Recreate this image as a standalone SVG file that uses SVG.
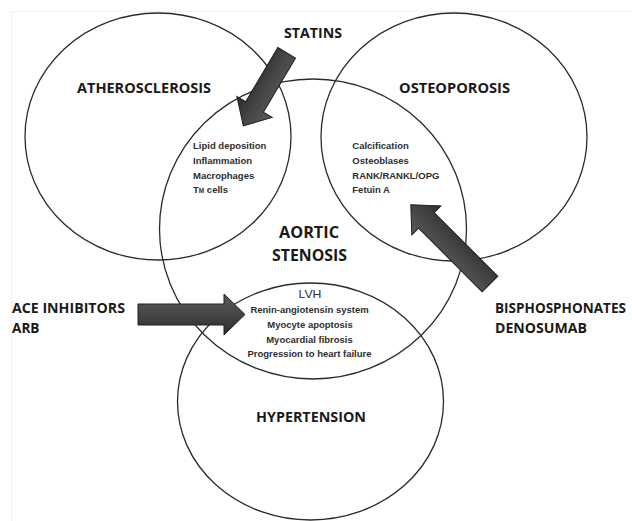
<svg xmlns="http://www.w3.org/2000/svg" width="632" height="521" viewBox="0 0 632 521">
<style>
.ring{fill:none;stroke:#2b2b2b;stroke-width:1.3}
.big{font-family:"Open Sans",Lato,sans-serif;font-weight:bold;font-size:15px;fill:#1a1a1a}
.big2{font-family:"Open Sans",Lato,sans-serif;font-weight:bold;font-size:16.5px;fill:#1a1a1a}
.sm{font-family:"Liberation Sans",Arial,sans-serif;font-weight:bold;font-size:9.5px;fill:#2e2e2e}
.lvh{font-family:"Liberation Sans",Arial,sans-serif;font-size:10.5px;fill:#2e2e2e}
.arr{fill:url(#ag);stroke:#1e1e1e;stroke-width:1;stroke-linejoin:miter}
</style>
<defs>
<linearGradient id="ag" x1="0" y1="0" x2="0" y2="1">
<stop offset="0" stop-color="#5a5a5a"/>
<stop offset="0.5" stop-color="#464646"/>
<stop offset="1" stop-color="#2c2c2c"/>
</linearGradient>
</defs>
<rect x="11.5" y="11.5" width="640" height="520" fill="none" stroke="#f0f0f0" stroke-width="1"/>
<g id="atherosclerosis">
<ellipse class="ring" cx="158" cy="136.5" rx="133" ry="123.5"/>
<text class="big" x="77" y="93" textLength="134" lengthAdjust="spacingAndGlyphs">ATHEROSCLEROSIS</text>
</g>
<g id="osteoporosis">
<ellipse class="ring" cx="454" cy="137" rx="133" ry="124"/>
<text class="big" x="399" y="93" textLength="111" lengthAdjust="spacingAndGlyphs">OSTEOPOROSIS</text>
</g>
<g id="aortic-stenosis">
<ellipse class="ring" cx="313" cy="229" rx="153.5" ry="150"/>
<text class="big2" x="279" y="238" textLength="60" lengthAdjust="spacingAndGlyphs">AORTIC</text>
<text class="big2" x="272" y="260.5" textLength="75" lengthAdjust="spacingAndGlyphs">STENOSIS</text>
</g>
<g id="hypertension">
<ellipse class="ring" cx="310.5" cy="401.5" rx="133" ry="118.5"/>
<text class="big" x="256" y="422" textLength="110" lengthAdjust="spacingAndGlyphs">HYPERTENSION</text>
</g>
<g id="athero-aortic-factors">
<text class="sm" x="193" y="149">Lipid deposition</text>
<text class="sm" x="193" y="164">Inflammation</text>
<text class="sm" x="193" y="178.5">Macrophages</text>
<text class="sm" x="193" y="193.3">T<tspan font-size="6.5px">M</tspan> cells</text>
</g>
<g id="osteo-aortic-factors">
<text class="sm" x="352.3" y="149">Calcification</text>
<text class="sm" x="352.3" y="164">Osteoblases</text>
<text class="sm" x="352.3" y="178.5">RANK/RANKL/OPG</text>
<text class="sm" x="352.3" y="193.3">Fetuin A</text>
</g>
<g id="hypertension-aortic-factors" text-anchor="middle">
<text class="lvh" x="310" y="298.3" textLength="23" lengthAdjust="spacingAndGlyphs">LVH</text>
<text class="sm" x="309.5" y="313.3">Renin-angiotensin system</text>
<text class="sm" x="310" y="327.5">Myocyte apoptosis</text>
<text class="sm" x="309.5" y="342.5">Myocardial fibrosis</text>
<text class="sm" x="309.5" y="356.7">Progression to heart failure</text>
</g>
<g id="statins">
<text class="big" x="284" y="37.5" textLength="58" lengthAdjust="spacingAndGlyphs">STATINS</text>
</g>
<g id="ace-arb">
<text class="big" x="12" y="312.5" textLength="113" lengthAdjust="spacingAndGlyphs">ACE INHIBITORS</text>
<text class="big" x="12" y="333" textLength="27.5" lengthAdjust="spacingAndGlyphs">ARB</text>
</g>
<g id="bisphosphonates-denosumab">
<text class="big" transform="translate(495,312.7) scale(0.9,1)" x="0" y="0" textLength="145.5" lengthAdjust="spacingAndGlyphs">BISPHOSPHONATES</text>
<text class="big" transform="translate(495,332.7) scale(0.9,1)" x="0" y="0" textLength="102.2" lengthAdjust="spacingAndGlyphs">DENOSUMAB</text>
</g>
<g id="connectors">
<polygon class="arr" transform="translate(286.7,52.8) rotate(120.7)" points="0,-10.3 63,-10.3 63,-20.5 85,0 63,20.5 63,10.3 0,10.3"/>
<polygon class="arr" transform="translate(138,314.5)" points="0,-10.5 86,-10.5 86,-20.5 107,0 86,20.5 86,10.5 0,10.5"/>
<polygon class="arr" transform="translate(490,284) rotate(225)" points="0,-11 90,-11 90,-20.5 112,0 90,20.5 90,11 0,11"/>
</g>
</svg>
